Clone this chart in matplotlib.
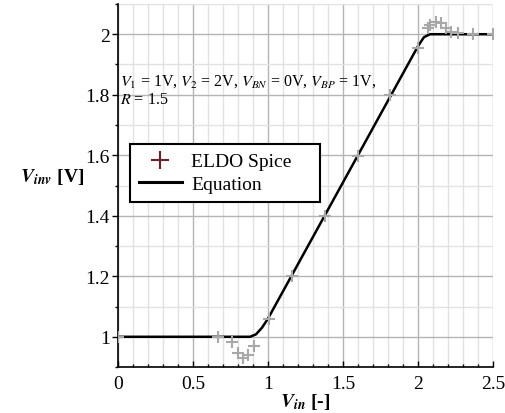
import numpy as np
import matplotlib.pyplot as plt
from matplotlib.lines import Line2D
from matplotlib.ticker import MultipleLocator

plt.rcParams['font.family'] = 'Liberation Serif'
plt.rcParams['mathtext.fontset'] = 'stix'

# ELDO Spice simulation points
spice_x = [0.0, 0.667, 0.758, 0.80, 0.831, 0.869, 0.907, 1.009, 1.158, 1.38, 1.598,
           1.813, 2.002, 2.07, 2.08, 2.12, 2.153, 2.19, 2.22, 2.27, 2.37, 2.5]
spice_y = [1.0, 1.0, 0.982, 0.946, 0.931, 0.94, 0.97, 1.06, 1.2, 1.40, 1.599,
           1.80, 1.955, 2.02, 2.03, 2.04, 2.036, 2.02, 2.009, 2.003, 2.0, 2.0]

# equation curve
eq_x = [0.0, 0.88, 0.92, 0.96, 1.0, 2.0, 2.04, 2.08, 2.5]
eq_y = [1.0, 1.0, 1.008, 1.03, 1.06, 1.96, 1.99, 2.0, 2.0]

fig = plt.figure(figsize=(5.05, 4.14), dpi=100)
ax = fig.add_axes([0.2337, 0.111, 0.976 - 0.2337, 0.988 - 0.111])

ax.xaxis.set_major_locator(MultipleLocator(0.5))
ax.xaxis.set_minor_locator(MultipleLocator(0.1))
ax.yaxis.set_major_locator(MultipleLocator(0.2))
ax.yaxis.set_minor_locator(MultipleLocator(0.1))
ax.grid(which='major', color='#b4b4b4', lw=1.0)
ax.grid(which='minor', color='#e2e2e2', lw=1.0)
ax.set_axisbelow(True)

ax.plot(eq_x, eq_y, color='black', lw=1.8, zorder=3)
ax.plot(spice_x, spice_y, '+', color='#a8a8a8', ms=9, mew=1.5, zorder=4)

ax.set_xlim(0, 2.5)
ax.set_ylim(0.9, 2.1)
ax.set_yticks([1, 1.2, 1.4, 1.6, 1.8, 2])
ax.set_yticklabels(['1', '1.2', '1.4', '1.6', '1.8', '2'])
ax.set_xticks([0, 0.5, 1, 1.5, 2, 2.5])
ax.set_xticklabels(['0', '0.5', '1', '1.5', '2', '2.5'])

for s in ['top', 'right']:
    ax.spines[s].set_visible(False)
ax.spines['left'].set_linewidth(1.2)
ax.spines['bottom'].set_linewidth(1.2)
ax.tick_params(which='both', labelsize=14, width=1)
ax.tick_params(axis='y', which='major', length=4, pad=2)
ax.tick_params(axis='y', which='minor', length=2)
ax.tick_params(axis='x', which='major', direction='in', length=4, pad=6)
ax.tick_params(axis='x', which='minor', direction='in', length=2.5)

ax.set_xlabel(r'$\mathbfit{V}_{\mathbfit{in}}$ [-]', fontsize=14, fontweight='bold')
ax.xaxis.set_label_coords(0.5, -0.065)
ax.set_ylabel(r'$\mathbfit{V}_{\mathbfit{inv}}$ [V]', fontsize=14, fontweight='bold',
              rotation=0)
ax.yaxis.set_label_coords(-0.176, 0.50)

ax.text(0.01, 1.845, r'$V_1$ = 1V, $V_2$ = 2V, $V_{BN}$ = 0V, $V_{BP}$ = 1V,',
        fontsize=11.5, va='center')
ax.text(0.01, 1.785, r'$R$ = 1.5', fontsize=11.5, va='center')

handles = [Line2D([], [], ls='none', marker='+', color='#6b1f2a', ms=13, mew=1.5),
           Line2D([], [], color='black', lw=2.2)]
leg = ax.legend(handles, ['ELDO Spice    ', 'Equation'], loc='upper left',
                bbox_to_anchor=(0.032, 0.614), fontsize=14, fancybox=False,
                framealpha=1, edgecolor='black', borderpad=0.45, borderaxespad=0,
                handlelength=2.2, handletextpad=0.5, labelspacing=0.25)
leg.get_frame().set_linewidth(1.5)

fig.savefig('out.png', dpi=100)
